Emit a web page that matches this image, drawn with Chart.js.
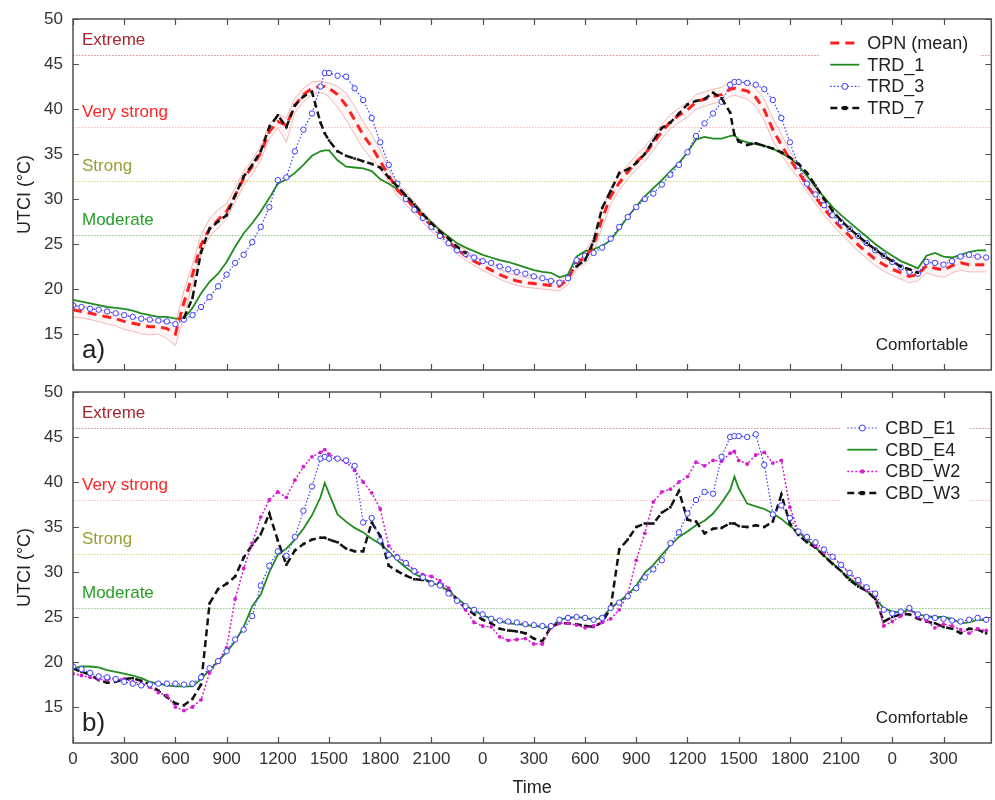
<!DOCTYPE html>
<html>
<head>
<meta charset="utf-8">
<title>UTCI time series</title>
<script src="https://cdn.jsdelivr.net/npm/chart.js@4.4.1/dist/chart.umd.min.js"></script>
<style>
  html, body { margin: 0; padding: 0; background: #fff; }
  canvas { display: block; }
</style>
</head>
<body>
<canvas id="panelA" width="995" height="380"></canvas>
<canvas id="panelB" width="995" height="420"></canvas>
<script>
// hours since the first midnight, every 30 min (plus two readings at the afternoon peaks)
const hours = [];
for (let h = 0; h <= 53.5; h += 0.5) {
  hours.push(h);
  if (h === 14.5 || h === 38.5) hours.push(h + 0.25);
}

const xTickHours = [0, 3, 6, 9, 12, 15, 18, 21, 24, 27, 30, 33, 36, 39, 42, 45, 48, 51];
const yTickValues = [15, 20, 25, 30, 35, 40, 45, 50];

// UTCI heat stress classes (lower limits)
const zoneLimits = [46, 38, 32, 26];
const zoneNames = ['Extreme', 'Very strong', 'Strong', 'Moderate'];

// ---- panel a) open site and street canyon TRD ----
const opnMean = [
  17.7, 17.5, 17.3, 17.1, 16.9, 16.7, 16.4, 16.2, 16.0, 15.8, 15.8, 15.6,
  15.0, 18.5, 21.6, 24.9, 26.7, 27.7, 28.6, 30.4, 32.3, 33.6, 35.1, 37.5,
  38.6, 38.2, 40.4, 41.6, 42.3, 42.5, 42.5, 42.3, 41.6, 40.4, 38.8, 37.1, 35.8,
  34.2, 32.6, 31.0, 30.1, 29.0, 28.0, 27.0, 26.1, 25.3, 24.4, 23.7, 23.1,
  22.6, 22.1, 21.6, 21.2, 20.9, 20.7, 20.6, 20.5, 20.4, 20.3, 21.1, 22.9,
  23.5, 24.9, 27.8, 30.3, 31.8, 33.0, 34.1, 35.0, 36.2, 37.5, 38.6, 39.3,
  39.9, 40.8, 41.1, 41.4, 41.6, 42.2, 42.3, 42.2, 42.0, 41.3, 39.9, 37.7, 36.0,
  34.4, 33.0, 31.5, 30.2, 28.9, 27.8, 26.8, 25.9, 24.9, 24.1, 23.3, 22.7,
  22.2, 21.8, 21.4, 21.6, 22.6, 22.3, 22.1, 22.6, 22.9, 22.7, 22.7, 22.7
];
const opnMin = [
  16.9, 16.8, 16.6, 16.4, 16.1, 15.9, 15.5, 15.3, 15.0, 14.9, 15.0, 14.5,
  13.7, 17.0, 20.5, 23.8, 25.8, 26.8, 27.8, 29.6, 31.5, 32.8, 34.3, 36.7,
  37.9, 36.3, 39.6, 40.8, 41.6, 41.8, 41.7, 41.3, 40.2, 38.8, 37.2, 35.6, 34.4,
  33.4, 31.9, 30.3, 29.4, 28.4, 27.4, 26.4, 25.6, 24.8, 23.9, 23.2, 22.6,
  22.1, 21.6, 21.1, 20.7, 20.4, 20.2, 20.1, 20.0, 19.9, 19.8, 20.5, 22.2,
  22.8, 24.1, 26.8, 29.4, 31.0, 32.2, 33.3, 34.2, 35.4, 36.7, 37.8, 38.5,
  39.1, 40.0, 40.3, 40.6, 40.8, 41.4, 41.5, 41.4, 41.1, 40.3, 38.7, 36.5, 34.9,
  33.5, 32.3, 30.8, 29.5, 28.2, 27.1, 26.1, 25.2, 24.2, 23.4, 22.6, 22.0,
  21.5, 21.1, 20.7, 20.9, 21.8, 21.5, 21.3, 21.8, 22.1, 21.9, 21.9, 21.9
];
const opnMax = [
  18.3, 18.1, 17.9, 17.7, 17.5, 17.3, 17.1, 16.9, 16.7, 16.5, 16.4, 16.3,
  16.2, 19.8, 22.7, 26.0, 27.8, 28.8, 29.5, 31.2, 33.1, 34.4, 35.9, 38.3,
  39.4, 39.0, 41.2, 42.3, 43.0, 43.1, 43.0, 42.9, 42.5, 41.8, 40.3, 38.6, 37.2,
  35.4, 33.3, 31.7, 30.8, 29.7, 28.6, 27.6, 26.7, 25.9, 25.0, 24.3, 23.7,
  23.2, 22.7, 22.2, 21.8, 21.5, 21.3, 21.2, 21.1, 21.0, 20.9, 21.8, 23.6,
  24.2, 25.7, 28.8, 31.2, 32.6, 33.8, 34.9, 35.8, 37.0, 38.3, 39.4, 40.1,
  40.7, 41.6, 41.9, 42.2, 42.4, 43.0, 43.1, 43.0, 42.9, 42.3, 41.1, 39.0, 37.2,
  35.3, 33.8, 32.2, 30.9, 29.6, 28.5, 27.5, 26.6, 25.6, 24.8, 24.0, 23.4,
  22.9, 22.5, 22.1, 22.3, 23.4, 23.1, 22.9, 23.4, 23.7, 23.5, 23.5, 23.5
];
const trd1 = [
  18.8, 18.6, 18.4, 18.2, 18.0, 17.9, 17.8, 17.6, 17.3, 17.1, 16.9, 16.9,
  16.7, 16.7, 17.9, 19.5, 20.8, 21.7, 23.0, 24.7, 26.2, 27.3, 28.6, 30.1,
  31.7, 32.2, 32.9, 33.8, 34.8, 35.3, 35.4, 35.4, 34.3, 33.6, 33.5, 33.4, 33.1,
  32.2, 31.7, 31.1, 30.3, 29.2, 28.3, 27.4, 26.5, 25.8, 25.1, 24.6, 24.2,
  23.8, 23.5, 23.2, 23.0, 22.7, 22.4, 22.1, 21.9, 21.8, 21.3, 21.6, 23.6,
  24.2, 24.4, 24.8, 25.4, 26.7, 28.0, 29.2, 30.3, 31.2, 32.1, 33.1, 34.0,
  35.2, 36.6, 36.9, 36.7, 36.7, 37.0, 37.1, 36.6, 36.3, 36.1, 35.9, 35.6, 35.1,
  34.6, 33.7, 32.6, 31.3, 30.2, 29.1, 28.2, 27.4, 26.6, 25.8, 25.0, 24.3,
  23.7, 23.1, 22.7, 22.3, 23.7, 24.0, 23.6, 23.5, 23.8, 24.1, 24.3, 24.3
];
const trd3 = [
  18.2, 18.0, 17.8, 17.7, 17.5, 17.3, 17.1, 16.9, 16.7, 16.6, 16.5, 16.4,
  16.1, 16.6, 17.1, 18.0, 19.1, 20.3, 21.6, 22.9, 23.8, 25.2, 26.9, 29.1,
  32.1, 32.4, 35.3, 37.7, 39.5, 42.5, 44.0, 44.0, 43.7, 43.6, 42.3, 41.0, 39.0,
  36.3, 33.8, 31.7, 30.0, 28.8, 27.9, 26.9, 25.9, 25.1, 24.3, 23.9, 23.5,
  23.1, 22.9, 22.5, 22.2, 21.9, 21.7, 21.4, 21.2, 20.9, 20.7, 21.2, 23.2,
  23.7, 24.0, 24.6, 25.6, 26.9, 28.0, 29.1, 30.0, 30.6, 31.6, 32.7, 33.8,
  35.2, 37.0, 38.4, 39.5, 40.8, 42.7, 43.0, 43.0, 42.9, 42.7, 42.2, 41.0, 39.0,
  36.3, 33.7, 31.7, 30.5, 29.3, 28.2, 27.4, 26.7, 25.9, 25.1, 24.3, 23.7,
  23.0, 22.4, 21.9, 21.7, 23.0, 22.9, 22.7, 23.1, 23.6, 23.8, 23.6, 23.5
];
const trd7 = [
  null, null, null, null, null, null, null, null, null, null, null, null,
  null, 16.8, 19.0, 24.1, 26.7, 27.5, 28.2, 30.4, 32.5, 33.8, 35.3, 38.0,
  39.3, 38.0, 40.4, 41.4, 41.9, 38.5, 37.3, 36.5, 35.3, 34.8, 34.5, 34.2, 33.9,
  33.5, 32.4, 31.4, 30.4, 29.4, 28.3, 27.3, 26.4, 25.6, 24.7, 24.0, null,
  null, null, null, null, null, null, null, null, null, null, null, 22.5,
  23.2, 25.3, 29.0, 30.9, 32.9, 33.3, 34.0, 35.0, 36.5, 37.9, 38.5, 39.5,
  40.5, 40.9, 41.1, 41.8, 41.2, 39.6, 37.1, 36.4, 36.0, 36.2, 35.9, 35.6, 35.2,
  34.6, 33.9, 32.9, 31.5, 30.0, 28.7, 27.6, 26.7, 25.9, 25.1, 24.4, 23.7,
  23.1, 22.5, 22.2, 21.8, null, null, null, null, null, null, null, null
];

// ---- panel b) CBD sites ----
const cbdE1 = [
  19.5, 19.2, 18.8, 18.4, 18.3, 18.1, 17.8, 17.6, 17.4, 17.5, 17.6, 17.6,
  17.6, 17.5, 17.6, 18.3, 19.3, 20.1, 21.2, 22.5, 23.6, 25.1, 28.5, 30.7,
  32.3, 31.8, 33.9, 36.8, 39.5, 42.6, 42.8, 42.6, 42.6, 42.4, 41.8, 35.5, 36.0,
  33.5, 31.9, 31.6, 31.0, 30.1, 29.4, 28.7, 28.5, 27.6, 26.8, 26.2, 25.8,
  25.3, 24.8, 24.6, 24.5, 24.4, 24.2, 24.1, 24.0, 24.0, 24.7, 24.9, 25.0,
  24.9, 24.7, 24.9, 26.0, 26.6, 27.3, 28.2, 29.4, 30.3, 31.3, 33.2, 34.4,
  36.5, 38.0, 38.9, 38.7, 42.8, 45.0, 45.1, 45.1, 45.0, 45.3, 41.9, 36.4, 37.4,
  36.0, 34.5, 33.9, 33.3, 32.5, 31.7, 30.8, 29.9, 29.1, 28.3, 27.6, 25.8,
  25.4, 25.6, 26.0, 25.3, 25.0, 24.9, 24.8, 24.6, 24.5, 24.7, 24.9, 24.7
];
const cbdE4 = [
  19.3, 19.5, 19.5, 19.4, 19.1, 18.9, 18.7, 18.5, 18.2, 17.8, 17.6, 17.4,
  17.3, 17.3, 17.3, 18.1, 19.1, 20.1, 21.1, 22.3, 23.9, 26.2, 27.5, 30.0,
  31.9, 32.6, 33.6, 34.8, 36.3, 38.3, 39.9, 38.7, 36.4, 35.6, 34.9, 34.4, 33.7,
  33.1, 32.3, 31.3, 30.5, 29.8, 29.3, 28.8, 28.5, 27.9, 27.1, 26.3, 25.7,
  25.2, 24.8, 24.5, 24.3, 24.2, 24.1, 24.0, 23.9, 23.8, 24.7, 24.9, 25.0,
  24.9, 24.7, 24.9, 26.0, 26.7, 27.5, 28.5, 29.9, 30.8, 31.9, 33.0, 33.9,
  34.5, 35.2, 35.7, 36.5, 37.7, 39.1, 40.6, 39.3, 37.6, 37.3, 37.0, 36.5, 35.9,
  35.1, 34.4, 33.6, 32.7, 31.8, 31.0, 30.1, 29.3, 28.6, 27.9, 27.0, 26.0,
  25.6, 25.5, 25.8, 25.3, 25.1, 25.0, 25.0, 24.8, 24.3, 24.4, 24.7, 24.6
];
const cbdW2 = [
  18.7, 18.5, 18.3, 18.1, 18.0, 18.2, 18.1, 17.8, 17.6, 17.2, 16.6, 16.3,
  15.0, 14.6, 15.0, 15.8, 18.8, 20.0, 21.6, 27.0, 30.4, 33.2, 36.1, 38.0,
  38.9, 38.3, 40.2, 41.7, 42.8, 43.3, 43.6, 43.1, 42.6, 42.2, 41.3, 40.0, 38.8,
  37.0, 32.9, 31.8, 31.0, 30.2, 29.7, 29.5, 29.0, 28.2, 26.8, 25.8, 24.4,
  24.0, 23.9, 22.8, 22.4, 22.5, 22.6, 22.0, 22.0, 23.8, 24.3, 24.3, 24.1,
  23.8, 24.0, 24.4, 24.8, 25.8, 27.5, 31.3, 34.3, 37.8, 38.9, 39.2, 40.0,
  40.6, 42.2, 41.8, 42.4, 42.3, 43.2, 43.4, 42.4, 42.0, 43.0, 43.3, 42.1, 42.4,
  37.2, 34.5, 33.8, 32.9, 32.2, 31.7, 30.8, 29.8, 28.9, 28.0, 27.4, 24.0,
  24.5, 25.1, 25.8, 25.0, 24.6, 23.8, 24.2, 24.0, 23.6, 23.2, 23.7, 23.5
];
const cbdW3 = [
  19.3, 18.9, 18.6, 18.0, 17.7, 17.8, 18.1, 18.2, 17.9, 17.5, 16.8, 16.1,
  15.4, 15.2, 15.9, 17.5, 26.5, 28.1, 28.7, 29.5, 31.6, 33.0, 34.2, 36.5,
  33.5, 30.8, 32.4, 33.1, 33.6, 33.8, 33.8, 33.6, 33.3, 32.6, 32.3, 32.3, 35.5,
  34.0, 30.7, 30.1, 29.6, 29.2, 29.1, 28.9, 28.7, 28.1, 26.9, 26.0, 25.3,
  24.7, 24.3, 23.7, 23.5, 23.4, 23.2, 22.6, 22.3, 23.9, 24.3, 24.3, 24.2,
  24.0, 23.9, 24.4, 26.0, 32.5, 33.6, 35.0, 35.4, 35.4, 36.6, 37.2, 39.0,
  35.8, 35.6, 34.3, 34.8, 34.9, 35.4, 35.4, 35.1, 35.0, 35.2, 35.0, 35.6, 38.6,
  35.4, 34.1, 33.3, 32.7, 31.8, 30.9, 30.1, 29.1, 28.4, 27.9, 27.0, 24.5,
  25.0, 25.3, 25.3, 24.8, 24.5, 24.3, 23.9, 23.7, 23.2, 23.7, 23.6, 23.2
];

const allSeries = { opnMean, opnMin, opnMax, trd1, trd3, trd7, cbdE1, cbdE4, cbdW2, cbdW3 };
const badLength = Object.keys(allSeries).filter(k => allSeries[k].length !== hours.length);
if (badLength.length) {
  const warn = document.createElement('div');
  warn.textContent = 'length mismatch: ' + badLength.map(k => k + '=' + allSeries[k].length).join(', ') + ' / ' + hours.length;
  warn.style.cssText = 'position:absolute;top:0;left:0;color:red;font:14px sans-serif';
  document.body.appendChild(warn);
}

const zoneLineColors = ['#d68a8a', '#ffb8b8', '#d4d67a', '#86cc86'];
const zoneTextColors = ['#a3282d', '#ff2424', '#9c9c36', '#25a025'];

Chart.defaults.font.family = '"Liberation Sans", Arial, sans-serif';

function series(label, values, style) {
  return Object.assign({
    label: label,
    data: hours.map((h, i) => ({ x: h, y: values[i] })),
    tension: 0,
    fill: false,
    spanGaps: false,
    pointRadius: 0,
    pointHoverRadius: 0
  }, style);
}

const styleRed = { borderColor: '#ff1f1f', borderWidth: 3, borderDash: [9, 6] };
const styleGreen = { borderColor: '#1e8c1e', borderWidth: 1.8 };
const styleBlue = {
  borderColor: '#3b3bff', borderWidth: 1.2, borderDash: [1.5, 2],
  pointRadius: 2.7, pointStyle: 'circle', pointBorderWidth: 1,
  pointBorderColor: '#3b3bff', pointBackgroundColor: '#ffffff'
};
const styleBlack = {
  borderColor: '#111111', borderWidth: 2.5, borderDash: [7, 4],
  pointRadius: 1.8, pointStyle: 'rect', pointBorderWidth: 0, pointBackgroundColor: '#111111'
};
const styleMagenta = {
  borderColor: '#d81cd0', borderWidth: 1.5, borderDash: [2, 2],
  pointRadius: 1.9, pointStyle: 'circle', pointBorderWidth: 0, pointBackgroundColor: '#d81cd0'
};
const styleBand = { borderColor: 'rgba(236,165,165,0.8)', borderWidth: 1 };

// frame, inward ticks, class lines and labels, legend box
const panelPlugin = {
  id: 'panel',
  beforeDatasetsDraw(chart, args, opts) {
    const { ctx, chartArea: a, scales: { y } } = chart;
    ctx.save();
    ctx.lineWidth = 1;
    ctx.setLineDash([1.5, 1.5]);
    zoneLimits.forEach((v, i) => {
      const py = Math.round(y.getPixelForValue(v)) + 0.5;
      ctx.strokeStyle = zoneLineColors[i];
      ctx.beginPath();
      ctx.moveTo(a.left, py);
      ctx.lineTo(a.right, py);
      ctx.stroke();
    });
    ctx.restore();
  },
  afterDatasetsDraw(chart, args, opts) {
    const { ctx, chartArea: a, scales: { x, y } } = chart;
    const font = '"Liberation Sans", Arial, sans-serif';
    ctx.save();

    // class names
    ctx.font = '17px ' + font;
    ctx.textAlign = 'left';
    ctx.textBaseline = 'middle';
    zoneLimits.forEach((v, i) => {
      ctx.fillStyle = zoneTextColors[i];
      ctx.fillText(zoneNames[i], a.left + 9, y.getPixelForValue(v) - 15);
    });
    ctx.fillStyle = '#222';
    ctx.textAlign = 'right';
    ctx.fillText('Comfortable', a.right - 23, a.bottom - 25);
    ctx.textAlign = 'left';
    ctx.font = '26px ' + font;
    ctx.fillText(opts.tag, a.left + 9, a.bottom - 19);

    // legend
    const L = opts.legend;
    const bx = a.right + L.dx, by = a.top + L.dy;
    ctx.fillStyle = '#fff';
    ctx.fillRect(bx, by, L.w, L.h);
    ctx.font = '18px ' + font;
    opts.items.forEach((di, k) => {
      const ds = chart.data.datasets[di];
      const ry = a.top + L.row0 + k * L.gap;
      const x0 = bx + L.s0, x1 = bx + L.s1;
      ctx.save();
      ctx.strokeStyle = ds.borderColor;
      ctx.lineWidth = ds.borderWidth;
      ctx.setLineDash(ds.borderDash || []);
      ctx.beginPath();
      ctx.moveTo(x0, ry);
      ctx.lineTo(x1, ry);
      ctx.stroke();
      ctx.setLineDash([]);
      if (ds.pointRadius > 0) {
        const mx = (x0 + x1) / 2, r = ds.pointRadius + 0.3;
        ctx.fillStyle = ds.pointBackgroundColor;
        ctx.beginPath();
        if (ds.pointStyle === 'rect') ctx.rect(mx - r, ry - r, 2 * r, 2 * r);
        else ctx.arc(mx, ry, r, 0, Math.PI * 2);
        ctx.fill();
        if (ds.pointBorderWidth > 0) {
          ctx.lineWidth = ds.pointBorderWidth;
          ctx.strokeStyle = ds.pointBorderColor;
          ctx.stroke();
        }
      }
      ctx.restore();
      ctx.fillStyle = '#222';
      ctx.textAlign = 'left';
      ctx.textBaseline = 'middle';
      ctx.fillText(ds.label, bx + L.t, ry + 1);
    });

    // frame and inward tick marks
    ctx.strokeStyle = '#505050';
    ctx.lineWidth = 1.5;
    ctx.setLineDash([]);
    ctx.strokeRect(a.left, a.top, a.right - a.left, a.bottom - a.top);
    ctx.lineWidth = 1.2;
    ctx.beginPath();
    x.ticks.forEach(t => {
      const px = Math.round(x.getPixelForValue(t.value)) + 0.5;
      ctx.moveTo(px, a.bottom); ctx.lineTo(px, a.bottom - 6);
      ctx.moveTo(px, a.top); ctx.lineTo(px, a.top + 6);
    });
    y.ticks.forEach(t => {
      const py = Math.round(y.getPixelForValue(t.value)) + 0.5;
      ctx.moveTo(a.left, py); ctx.lineTo(a.left + 6, py);
      ctx.moveTo(a.right, py); ctx.lineTo(a.right - 6, py);
    });
    ctx.stroke();
    ctx.restore();
  }
};

function makeOptions(showX, padTop, panel) {
  return {
    responsive: false,
    animation: false,
    events: [],
    layout: { padding: { top: padTop, right: 1, left: 0, bottom: 0 } },
    plugins: { legend: { display: false }, tooltip: { enabled: false }, panel: panel },
    scales: {
      x: {
        type: 'linear', min: 0, max: 53.8,
        grid: { display: false, drawTicks: false },
        border: { display: false },
        afterBuildTicks: s => { s.ticks = xTickHours.map(v => ({ value: v })); },
        afterFit: s => {
          s.height = showX ? 57 : 10;
          s.paddingLeft = 0; s.paddingRight = 0;
        },
        ticks: {
          display: showX, padding: 6, color: '#333', font: { size: 17 },
          maxRotation: 0, autoSkip: false,
          callback: v => String((v % 24) * 100)
        },
        title: { display: showX, text: 'Time', color: '#222', font: { size: 18 }, padding: { top: 0, bottom: 1 } }
      },
      y: {
        min: 11, max: 50,
        grid: { display: false, drawTicks: false },
        border: { display: false },
        afterBuildTicks: s => { s.ticks = yTickValues.map(v => ({ value: v })); },
        afterFit: s => {
          s.width = 73;
          s.paddingTop = 0; s.paddingBottom = 0;
        },
        ticks: { padding: 10, color: '#333', font: { size: 17 } },
        title: { display: true, text: 'UTCI (°C)', color: '#222', font: { size: 18 }, padding: { top: 14, bottom: 0 } }
      }
    }
  };
}

new Chart(document.getElementById('panelA'), {
  type: 'line',
  data: {
    datasets: [
      series('OPN (mean)', opnMean, Object.assign({ order: 2 }, styleRed)),
      series('TRD_1', trd1, Object.assign({ order: 3 }, styleGreen)),
      series('TRD_3', trd3, Object.assign({ order: 1 }, styleBlue)),
      series('TRD_7', trd7, Object.assign({ order: 0 }, styleBlack)),
      series('OPN max', opnMax, Object.assign({ order: 4, fill: '+1', backgroundColor: 'rgba(255,200,200,0.18)' }, styleBand)),
      series('OPN min', opnMin, Object.assign({ order: 5 }, styleBand))
    ]
  },
  options: makeOptions(false, 19, {
    tag: 'a)',
    items: [0, 1, 2, 3],
    legend: { dx: -171, dy: 11, w: 160, h: 90, row0: 24, gap: 21.7, s0: 10, s1: 39, t: 47 }
  }),
  plugins: [panelPlugin]
});

new Chart(document.getElementById('panelB'), {
  type: 'line',
  data: {
    datasets: [
      series('CBD_E1', cbdE1, Object.assign({ order: 0 }, styleBlue)),
      series('CBD_E4', cbdE4, Object.assign({ order: 3 }, styleGreen)),
      series('CBD_W2', cbdW2, Object.assign({ order: 1 }, styleMagenta)),
      series('CBD_W3', cbdW3, Object.assign({ order: 2 }, styleBlack))
    ]
  },
  options: makeOptions(true, 12, {
    tag: 'b)',
    items: [0, 1, 2, 3],
    legend: { dx: -151, dy: 22, w: 130, h: 92, row0: 36, gap: 21.7, s0: 7, s1: 37, t: 45 }
  }),
  plugins: [panelPlugin]
});
</script>
</body>
</html>
